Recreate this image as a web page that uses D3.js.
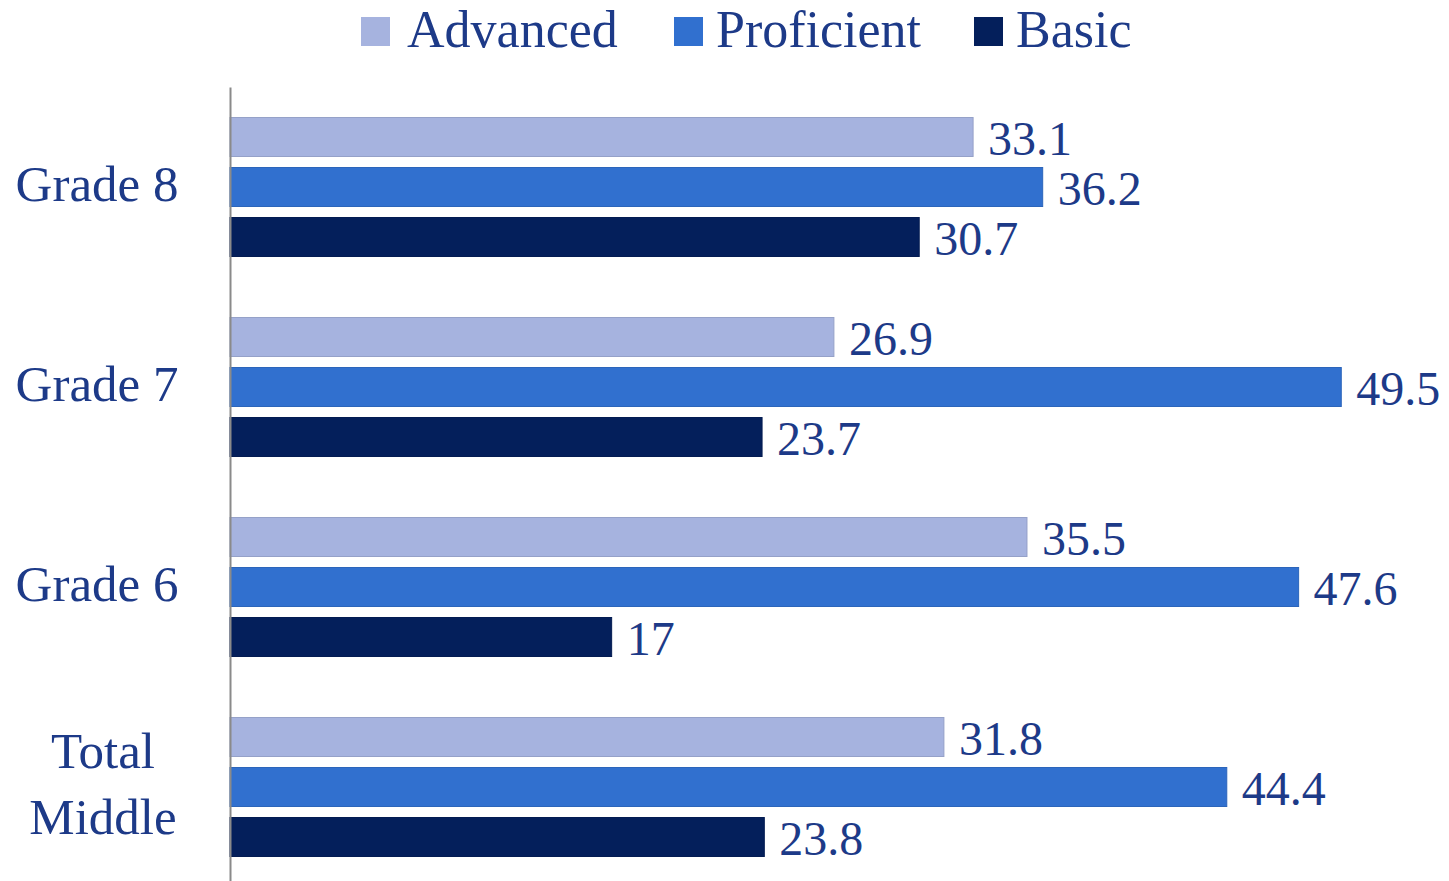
<!DOCTYPE html>
<html><head><meta charset="utf-8">
<script src="https://cdn.jsdelivr.net/npm/d3@7"></script>
<style>body{margin:0;background:#fff}</style>
</head><body>
<svg id="chart" width="1449" height="881"></svg>
<script>
const categories = ["Grade 8", "Grade 7", "Grade 6", "Total Middle"];
const seriesNames = ["Advanced", "Proficient", "Basic"];
const advanced = [33.1, 26.9, 35.5, 31.8];
const proficient = [36.2, 49.5, 47.6, 44.4];
const basic = [30.7, 23.7, 17, 23.8];
const colors = ["#a6b3df", "#3170cf", "#041f5b"];
const seriesValues = [advanced, proficient, basic];

const svg = d3.select("#chart");
const textColor = "#1d3a88";
const font = "'Liberation Serif', 'Times New Roman', serif";

const x = d3.scaleLinear().domain([0, 50]).range([230, 230 + 22.45 * 50]);
const y = d3.scaleBand().domain(categories).range([87, 887]).padding(0);
const ys = d3.scaleBand().domain(seriesNames).range([0, y.bandwidth()]).paddingInner(0.22).paddingOuter(0.61);

// bars
categories.forEach((c, ci) => {
  const g = svg.append("g").attr("transform", `translate(0,${y(c)})`);
  seriesNames.forEach((s, si) => {
    const v = seriesValues[si][ci];
    g.append("rect")
      .attr("x", x(0)).attr("y", ys(s))
      .attr("width", x(v) - x(0)).attr("height", ys.bandwidth())
      .attr("fill", colors[si])
      .attr("stroke", d3.color(colors[si]).darker(0.3)).attr("stroke-width", 1);
    g.append("text")
      .attr("x", x(v) + 15).attr("y", ys(s) + ys.bandwidth() / 2 + 18)
      .attr("font-family", font).attr("font-size", 48)
      .attr("fill", textColor)
      .text(v);
  });
});

// axis line
const yAxis = d3.axisLeft(y).tickSize(0).tickFormat("");
const ax = svg.append("g").attr("transform", `translate(${x(0)},0)`).call(yAxis);
ax.select(".domain").attr("stroke", "#8a8a8a").attr("stroke-width", 2);

// category labels
categories.forEach(c => {
  const cy = y(c) + y.bandwidth() / 2;
  const words = c === "Total Middle" ? ["Total", "Middle"] : [c];
  const cx = words.length > 1 ? 103 : 97;
  const t = svg.append("text")
    .attr("text-anchor", "middle")
    .attr("font-family", font).attr("font-size", 51)
    .attr("fill", textColor);
  words.forEach((w, i) => {
    const off = (i - (words.length - 1) / 2) * 66;
    t.append("tspan").attr("x", cx).attr("y", cy + off + 14).text(w);
  });
});

// legend
const legendItems = [
  {name: "Advanced", sx: 361, tx: 407},
  {name: "Proficient", sx: 674, tx: 716},
  {name: "Basic", sx: 974, tx: 1016}
];
legendItems.forEach((d, i) => {
  svg.append("rect").attr("x", d.sx).attr("y", 17).attr("width", 29).attr("height", 29)
    .attr("fill", colors[i]);
  svg.append("text").attr("x", d.tx).attr("y", 47)
    .attr("font-family", font).attr("font-size", 52)
    .attr("fill", textColor).text(d.name);
});
</script>
</body></html>
